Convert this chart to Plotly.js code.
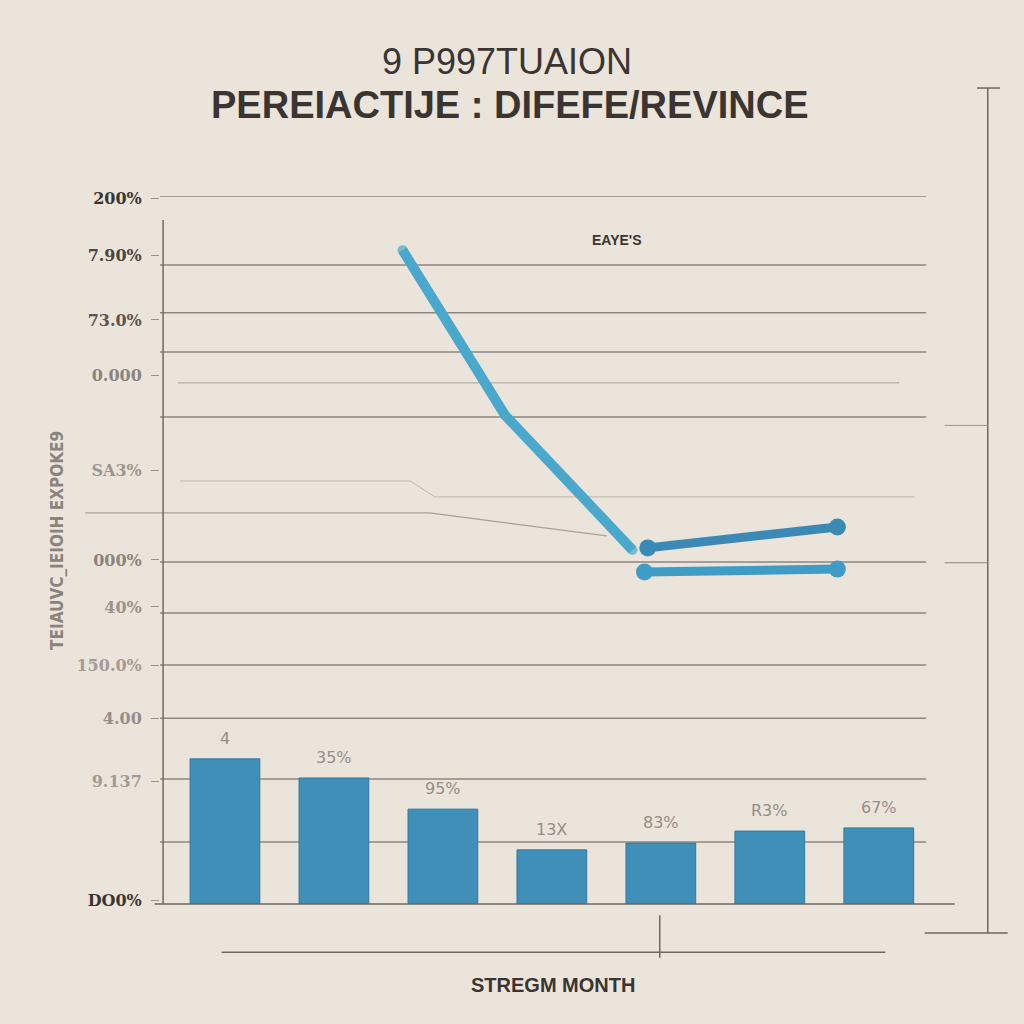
<!DOCTYPE html>
<html>
<head>
<meta charset="utf-8">
<script src="https://cdn.plot.ly/plotly-3.0.1.min.js"></script>
<style>html,body{margin:0;padding:0;background:#ebe4da;}#chart{width:1024px;height:1024px;}</style>
</head>
<body>
<div id="chart"></div>
<script>
// ---- data ----
const barMonths = [1, 2, 3, 4, 5, 6, 7];
const barValues = [41.0, 35.6, 26.8, 15.3, 17.2, 20.6, 21.5];
const barLabels = ["4", "35%", "95%", "13X", "83%", "R3%", "67%"];

const lineA_x = [2.63, 3.57, 4.28, 4.74];
const lineA_y = [184.7, 138.1, 115.0, 100.0];
const lineB_x = [4.88, 6.62];
const lineB_y = [100.6, 106.5];
const lineC_x = [4.85, 6.62];
const lineC_y = [93.8, 94.6];

const tickValues = [199.4, 183.1, 165.0, 149.4, 122.6, 97.2, 83.9, 67.5, 52.5, 34.5, 1.1];
const tickLabels = ["200%", "7.90%", "73.0%", "0.000", "SA3%", "000%", "40%", "150.0%", "4.00", "9.137", "DO0%"];
const tickColors = ["#3a3532", "#4a4542", "#5a5550", "#8a847e", "#9d968f", "#8a847e", "#9a938c", "#a39c95", "#958e88", "#a39c95", "#3a3532"];
const gridValues = [200, 180.5, 167, 155.9, 137.6, 96.6, 82.2, 67.5, 52.5, 35.3, 17.5];

const titleLine1 = "9 P997TUAION";
const titleLine2 = "PEREIACTIJE : DIFEFE/REVINCE";
const xTitle = "STREGM MONTH";
const yTitle = "TEIAUVC_IEIOIH EXPOKE9";
const legendText = "EAYE'S";

// ---- traces ----
const traces = [
  {
    type: "bar", x: barMonths, y: barValues, width: 0.64,
    marker: {color: "#3f8fb8", line: {color: "#35789c", width: 1}},
    hoverinfo: "skip", showlegend: false
  },
  {
    type: "scatter", mode: "lines+markers", x: lineA_x, y: lineA_y,
    line: {color: "#4aa8cc", width: 10},
    marker: {color: "#4aa8cc", size: [10, 0, 0, 10], line: {width: 0}},
    showlegend: false, hoverinfo: "skip"
  },
  {
    type: "scatter", mode: "lines+markers", x: lineB_x, y: lineB_y,
    line: {color: "#3a8ab5", width: 9}, marker: {color: "#3a8ab5", size: 17, line: {width: 0}},
    showlegend: false, hoverinfo: "skip"
  },
  {
    type: "scatter", mode: "lines+markers", x: lineC_x, y: lineC_y,
    line: {color: "#3e9cc6", width: 9}, marker: {color: "#3e9cc6", size: 17, line: {width: 0}},
    showlegend: false, hoverinfo: "skip"
  }
];

// ---- shapes ----
const shapes = [];
gridValues.forEach(v => {
  shapes.push({type: "line", xref: "paper", yref: "y", x0: 0, x1: 0.995, y0: v, y1: v,
    line: {color: "#8d8781", width: 1.5}, layer: "below"});
});
// faint lines
shapes.push({type: "line", xref: "paper", yref: "y", x0: 0.023, x1: 0.96, y0: 147.2, y1: 147.2, line: {color: "#a8a19a", width: 1}, layer: "below"});
shapes.push({type: "path", xref: "paper", yref: "y", path: "M 0.026 119.5 L 0.325 119.5 L 0.357 115 L 0.98 115", line: {color: "#bdb6af", width: 1}, layer: "below"});
shapes.push({type: "path", xref: "paper", yref: "y", path: "M -0.097 110.5 L 0.35 110.5 L 0.58 104", line: {color: "#a8a19a", width: 1.2}, layer: "below"});
// left axis line
shapes.push({type: "line", xref: "paper", yref: "paper", x0: 0.004, x1: 0.004, y0: 0, y1: 0.966, line: {color: "#6e6863", width: 1.5}});
// x axis baseline
shapes.push({type: "line", xref: "paper", yref: "paper", x0: -0.007, x1: 1.032, y0: 0, y1: 0, line: {color: "#6e6863", width: 1.5}});
// lower bracket line
shapes.push({type: "line", xref: "paper", yref: "paper", x0: 0.08, x1: 0.942, y0: -0.068, y1: -0.068, line: {color: "#6e6863", width: 1.5}});
shapes.push({type: "line", xref: "paper", yref: "paper", x0: 0.649, x1: 0.649, y0: -0.016, y1: -0.076, line: {color: "#6e6863", width: 1.5}});
// right bracket
shapes.push({type: "line", xref: "paper", yref: "paper", x0: 1.075, x1: 1.075, y0: -0.041, y1: 1.1525, line: {color: "#6e6863", width: 1.5}});
shapes.push({type: "line", xref: "paper", yref: "paper", x0: 1.061, x1: 1.091, y0: 1.1525, y1: 1.1525, line: {color: "#6e6863", width: 1.5}});
shapes.push({type: "line", xref: "paper", yref: "paper", x0: 0.993, x1: 1.101, y0: -0.041, y1: -0.041, line: {color: "#6e6863", width: 1.5}});
shapes.push({type: "line", xref: "paper", yref: "paper", x0: 1.019, x1: 1.075, y0: 0.676, y1: 0.676, line: {color: "#9a948e", width: 1}});
shapes.push({type: "line", xref: "paper", yref: "paper", x0: 1.019, x1: 1.075, y0: 0.482, y1: 0.482, line: {color: "#8d8781", width: 1.2}});

// ---- annotations ----
const annotations = [];
barMonths.forEach((m, i) => {
  annotations.push({x: m, y: barValues[i], xref: "x", yref: "y", text: barLabels[i],
    showarrow: false, yanchor: "bottom", yshift: 9,
    font: {family: "DejaVu Sans", size: 16, color: "#958e88"}});
});
annotations.push({xref: "paper", yref: "paper", x: 0.593, y: 0.938, yanchor: "middle", text: "<b>" + legendText + "</b>",
  showarrow: false, font: {family: "Liberation Sans Narrow, Liberation Sans", size: 14, color: "#3a3532"}});
annotations.push({xref: "paper", yref: "paper", x: -0.134, xanchor: "center", y: 0.514, yanchor: "middle", text: "<b>" + yTitle + "</b>", textangle: -90,
  showarrow: false, font: {family: "DejaVu Sans Condensed, DejaVu Sans", size: 17, color: "#8a847e"}});
annotations.push({xref: "paper", yref: "paper", x: 0.511, y: -0.114, yanchor: "middle", text: "<b>" + xTitle + "</b>",
  showarrow: false, font: {family: "Liberation Sans", size: 20, color: "#3a3532"}});
annotations.push({xref: "paper", yref: "paper", x: 0.455, y: 1.1285, yanchor: "middle", text: "<b>" + titleLine2 + "</b>",
  showarrow: false, font: {family: "Liberation Sans", size: 38, color: "#3a3532"}});
annotations.push({xref: "paper", yref: "paper", x: 0.451, y: 1.19, yanchor: "middle", text: titleLine1,
  showarrow: false, font: {family: "Liberation Sans", size: 36, color: "#3a3532"}});

const ticktext = tickLabels.map((t, i) => `<span style="color:${tickColors[i]}"><b>${t}</b></span>`);

const layout = {
  width: 1024, height: 1024,
  paper_bgcolor: "#ebe4da", plot_bgcolor: "#ebe4da",
  margin: {l: 160, r: 94, t: 196, b: 120},
  xaxis: {range: [0.404, 7.47], showticklabels: false, showgrid: false, zeroline: false, showline: false, ticks: "", fixedrange: true},
  yaxis: {range: [0, 200], tickmode: "array", tickvals: tickValues, ticktext: ticktext,
    showgrid: false, zeroline: false, showline: false, ticks: "outside", ticklen: 8, tickcolor: "#9a948e",
    ticklabelstandoff: 6,
    tickfont: {family: "DejaVu Serif", size: 16, color: "#8a847e"}},
  shapes: shapes,
  annotations: annotations,
  showlegend: false
};

Plotly.newPlot("chart", traces, layout, {displayModeBar: false, staticPlot: true});
</script>
</body>
</html>
